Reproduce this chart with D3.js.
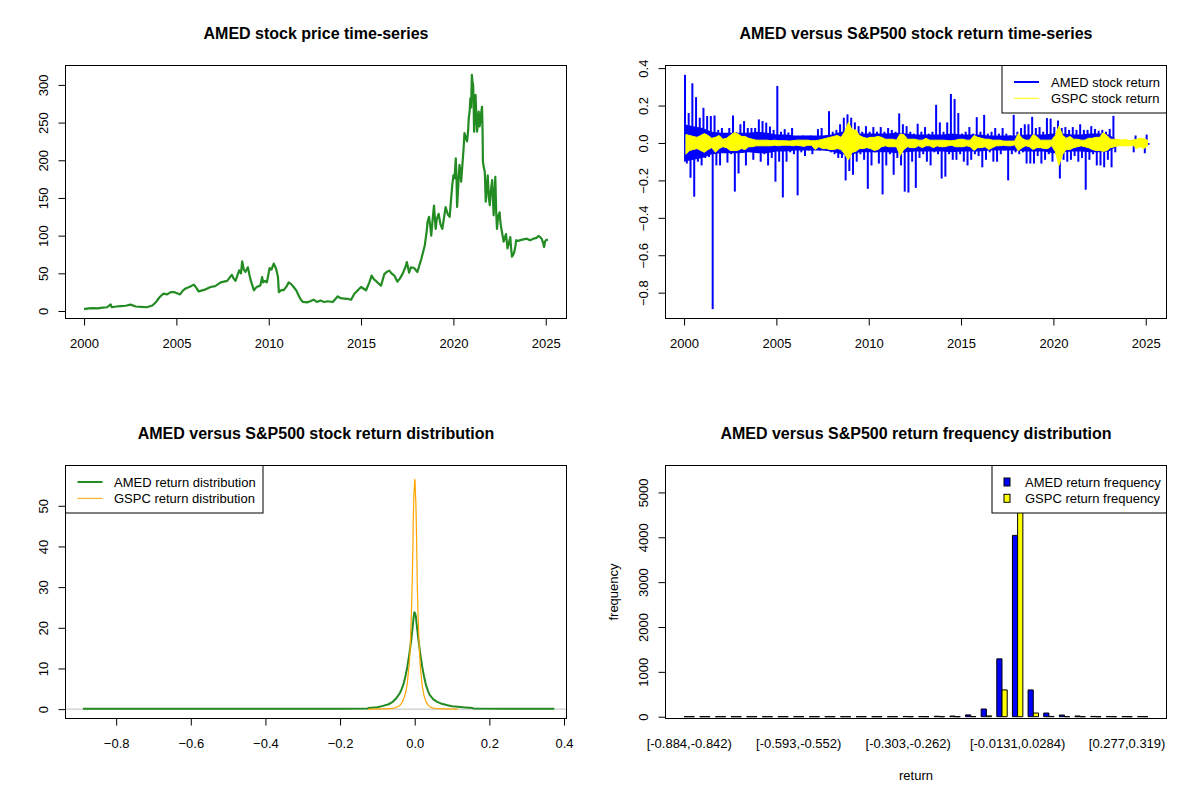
<!DOCTYPE html>
<html>
<head>
<meta charset="utf-8">
<script src="https://cdn.jsdelivr.net/npm/d3@7"></script>
<style>
  body { margin: 0; background: #fff; }
  text { font-family: "Liberation Sans", Arial, Helvetica, sans-serif; }
</style>
</head>
<body>
<svg id="chart" width="1200" height="800"></svg>
<script>
// ---- AMED closing price (decimal year, USD) ----
const priceYears = [2000.00,2000.25,2000.5,2000.75,2001.0,2001.25,2001.44,2001.5,2001.75,2002.0,2002.25,2002.52,2002.8,2003.1,2003.4,2003.7,2003.9,2004.1,2004.3,2004.5,2004.7,2004.9,2005.2,2005.35,2005.5,2005.7,2005.95,2006.1,2006.2,2006.5,2006.85,2007.1,2007.4,2007.75,2008.0,2008.1,2008.2,2008.4,2008.5,2008.56,2008.65,2008.74,2008.87,2009.0,2009.1,2009.2,2009.35,2009.55,2009.64,2009.7,2009.8,2009.9,2010.05,2010.15,2010.27,2010.4,2010.5,2010.55,2010.7,2010.8,2010.95,2011.08,2011.2,2011.35,2011.5,2011.7,2011.85,2012.07,2012.25,2012.43,2012.6,2012.8,2013.0,2013.2,2013.47,2013.74,2013.9,2014.1,2014.3,2014.46,2014.64,2014.8,2015.0,2015.27,2015.45,2015.57,2015.7,2015.8,2016.08,2016.26,2016.4,2016.53,2016.65,2016.8,2016.97,2017.1,2017.24,2017.4,2017.48,2017.6,2017.7,2017.87,2018.05,2018.15,2018.27,2018.45,2018.55,2018.6,2018.68,2018.75,2018.8,2018.9,2018.95,2019.04,2019.1,2019.2,2019.3,2019.4,2019.5,2019.58,2019.7,2019.8,2019.88,2019.94,2020.0,2020.06,2020.13,2020.17,2020.2,2020.27,2020.33,2020.38,2020.42,2020.5,2020.55,2020.6,2020.67,2020.74,2020.8,2020.83,2020.88,2020.92,2020.96,2021.0,2021.03,2021.07,2021.1,2021.12,2021.16,2021.2,2021.24,2021.28,2021.33,2021.37,2021.42,2021.46,2021.5,2021.55,2021.58,2021.6,2021.65,2021.7,2021.75,2021.8,2021.86,2021.92,2021.97,2022.03,2022.1,2022.14,2022.18,2022.22,2022.27,2022.32,2022.36,2022.42,2022.5,2022.56,2022.63,2022.72,2022.78,2022.85,2022.93,2023.0,2023.08,2023.12,2023.17,2023.25,2023.3,2023.35,2023.4,2023.5,2023.62,2023.8,2023.98,2024.15,2024.34,2024.5,2024.6,2024.7,2024.78,2024.86,2024.91,2024.96,2025.02,2025.12];
const priceValues = [2.5,3.5,3.9,3.5,4.5,5,8.7,5,6,6.5,7,8.5,6,5.5,5,7.4,12,18.6,23,22,25,25,22,27,30,32,35,30,26,28,31.9,33,38,40,48,43,40,54,50,66,55,52,58,43,35,27.5,32,34,45,38,40,38,57,55,63,56,45,25,28,27.5,32,38,36,31.9,27,16.5,12,11.5,13,15,12,14,12,13,12,19.5,17,16.5,16,15,23,27,31.9,27.5,38,47,42,40,33.6,49,52,53.6,50,47,39,43,49,58,65,51,58,57,51.8,60,69.6,87,105,118,125,112,100,128,140,109,122,129,115,109,125,138,128,125,150,167,180,176,202.7,175,138,170,194,185,171.5,198,215,236,230,225,240,255.7,265,282.3,270,313.3,305,300,270,238,260,286.7,260,238,250,264.6,245,251,262,271,240,198,190,184.8,145,160,180,150,140.5,160,173.7,150,127,150,178,130,109,125,131,115,105,92,97,102,83,90,98,85,72,75,78.5,85,94,93,94,95,96,94,96,97,99.7,98,96,90,85,92,94,94.8];

// ---- daily returns summarised per 0.2-year window: highest and lowest value ----
const retStart = 2000, retStep = 0.2;
const amedHigh = [0.364,0.16,0.319,0.245,0.135,0.188,0.144,0.144,0.147,0.07,0.08,0.04,0.08,0.147,0.056,0.1,0.117,0.08,0.08,0.08,0.126,0.117,0.109,0.088,0.07,0.305,0.06,0.074,0.056,0.08,0.03,0.03,0.04,0.038,0.04,0.03,0.074,0.08,0.03,0.17,0.06,0.07,0.1,0.135,0.153,0.135,0.11,0.09,0.06,0.09,0.06,0.085,0.06,0.085,0.06,0.08,0.07,0.06,0.158,0.1,0.09,0.06,0.05,0.103,0.06,0.085,0.05,0.06,0.204,0.11,0.06,0.11,0.262,0.235,0.16,0.05,0.06,0.085,0.05,0.138,0.06,0.15,0.05,0.06,0.08,0.05,0.08,0.05,0.04,0.15,0.06,0.08,0.1,0.1,0.14,0.08,0.085,0.06,0.133,0.13,0.085,0.12,0.08,0.085,0.07,0.085,0.07,0.1,0.07,0.07,0.09,0.075,0.065,0.07,0.06,0.075,0.145,0.02,0.015,0.012,0.015,0.012,0.04,0.015,0.02,0.045];
const amedLow = [-0.11,-0.186,-0.287,-0.1,-0.12,-0.08,-0.075,-0.888,-0.12,-0.12,-0.05,-0.105,-0.06,-0.26,-0.163,-0.05,-0.12,-0.04,-0.09,-0.05,-0.1,-0.06,-0.12,-0.08,-0.207,-0.1,-0.291,-0.1,-0.05,-0.06,-0.28,-0.05,-0.07,-0.04,-0.06,-0.03,-0.04,-0.03,-0.04,-0.05,-0.06,-0.08,-0.08,-0.2,-0.15,-0.17,-0.1,-0.06,-0.09,-0.245,-0.12,-0.05,-0.11,-0.275,-0.12,-0.06,-0.17,-0.08,-0.12,-0.26,-0.265,-0.1,-0.24,-0.08,-0.06,-0.1,-0.12,-0.05,-0.06,-0.19,-0.18,-0.06,-0.09,-0.09,-0.06,-0.1,-0.12,-0.09,-0.06,-0.07,-0.13,-0.09,-0.05,-0.1,-0.1,-0.06,-0.04,-0.2,-0.06,-0.05,-0.06,-0.05,-0.11,-0.11,-0.11,-0.07,-0.11,-0.09,-0.06,-0.1,-0.06,-0.19,-0.09,-0.1,-0.09,-0.07,-0.1,-0.08,-0.25,-0.09,-0.06,-0.12,-0.12,-0.13,-0.09,-0.13,-0.05,-0.015,-0.015,-0.012,-0.01,-0.05,-0.015,-0.01,-0.055,-0.01];
const gspcHigh = [0.045,0.04,0.035,0.03,0.04,0.05,0.04,0.025,0.03,0.04,0.02,0.025,0.04,0.055,0.05,0.035,0.035,0.025,0.02,0.015,0.015,0.015,0.015,0.012,0.015,0.012,0.012,0.012,0.01,0.012,0.015,0.015,0.015,0.015,0.012,0.012,0.015,0.02,0.025,0.03,0.035,0.04,0.03,0.06,0.11,0.07,0.07,0.04,0.03,0.025,0.03,0.03,0.035,0.03,0.02,0.02,0.02,0.015,0.048,0.045,0.02,0.02,0.02,0.015,0.015,0.025,0.015,0.015,0.015,0.015,0.015,0.012,0.012,0.015,0.02,0.02,0.015,0.015,0.04,0.03,0.025,0.02,0.02,0.015,0.015,0.015,0.01,0.01,0.01,0.01,0.05,0.025,0.015,0.015,0.045,0.035,0.015,0.015,0.015,0.015,0.04,0.09,0.04,0.025,0.035,0.02,0.02,0.015,0.015,0.025,0.025,0.03,0.03,0.055,0.04,0.02,0.02,0.02,0.015,0.02,0.012,0.015,0.02,0.025,0.022,0.015];
const gspcLow = [-0.06,-0.04,-0.035,-0.03,-0.04,-0.05,-0.035,-0.025,-0.05,-0.03,-0.02,-0.025,-0.04,-0.04,-0.04,-0.03,-0.035,-0.02,-0.02,-0.015,-0.015,-0.015,-0.015,-0.015,-0.012,-0.015,-0.012,-0.012,-0.012,-0.015,-0.012,-0.015,-0.018,-0.012,-0.012,-0.035,-0.02,-0.03,-0.03,-0.035,-0.035,-0.03,-0.035,-0.06,-0.09,-0.05,-0.045,-0.03,-0.03,-0.025,-0.03,-0.04,-0.035,-0.02,-0.015,-0.02,-0.02,-0.02,-0.067,-0.035,-0.02,-0.025,-0.025,-0.015,-0.025,-0.015,-0.015,-0.025,-0.015,-0.02,-0.02,-0.015,-0.012,-0.02,-0.02,-0.02,-0.015,-0.02,-0.04,-0.025,-0.025,-0.02,-0.035,-0.025,-0.015,-0.015,-0.012,-0.015,-0.015,-0.01,-0.042,-0.025,-0.015,-0.02,-0.035,-0.025,-0.025,-0.03,-0.03,-0.015,-0.045,-0.12,-0.06,-0.035,-0.035,-0.025,-0.02,-0.015,-0.02,-0.025,-0.035,-0.04,-0.04,-0.045,-0.04,-0.025,-0.02,-0.015,-0.015,-0.015,-0.015,-0.012,-0.03,-0.02,-0.03,-0.015];
// the dense "everyday" AMED band, per half year
const bandStart = 2000, bandStep = 0.5;
const amedBandHi = [0.1,0.09,0.08,0.06,0.055,0.055,0.055,0.055,0.06,0.055,0.045,0.045,0.04,0.04,0.04,0.04,0.045,0.06,0.06,0.05,0.05,0.05,0.05,0.055,0.05,0.045,0.045,0.045,0.045,0.05,0.045,0.045,0.045,0.04,0.04,0.04,0.04,0.045,0.045,0.045,0.05,0.05,0.045,0.045,0.05,0.05,0.045,0.012,0.01,0.012,0.014];
const amedBandLo = [-0.1,-0.09,-0.08,-0.06,-0.055,-0.055,-0.055,-0.05,-0.055,-0.055,-0.045,-0.045,-0.04,-0.04,-0.04,-0.04,-0.045,-0.06,-0.065,-0.05,-0.05,-0.05,-0.05,-0.055,-0.05,-0.045,-0.045,-0.045,-0.045,-0.05,-0.045,-0.045,-0.045,-0.04,-0.04,-0.04,-0.04,-0.045,-0.045,-0.045,-0.055,-0.05,-0.045,-0.045,-0.05,-0.05,-0.045,-0.012,-0.01,-0.012,-0.014];

// ---- kernel density of returns ----
const densityRange = [-0.886, 0.357];
const amedDensX = [-0.889,-0.5,-0.2,-0.126,-0.124,-0.1,-0.085,-0.07,-0.06,-0.05,-0.04,-0.035,-0.03,-0.025,-0.02,-0.015,-0.01,-0.006,-0.003,-0.001,0.001,0.003,0.006,0.01,0.015,0.02,0.025,0.03,0.035,0.04,0.05,0.06,0.07,0.085,0.1,0.13,0.155,0.157,0.25,0.374];
const amedDensY = [0.1,0.1,0.1,0.15,0.3,0.45,0.8,1.2,1.7,2.6,3.9,4.9,6.2,8.0,10.3,13.2,16.5,19.8,22.5,23.8,23.6,22.8,20.3,17.0,13.5,10.5,8.0,6.0,4.6,3.5,2.4,1.8,1.4,1.0,0.7,0.45,0.3,0.15,0.1,0.1];
const gspcDensX = [-0.125,-0.1,-0.08,-0.06,-0.05,-0.04,-0.035,-0.03,-0.025,-0.02,-0.015,-0.012,-0.009,-0.007,-0.005,-0.004,-0.003,-0.002,-0.001,0,0.001,0.002,0.003,0.004,0.005,0.007,0.009,0.012,0.015,0.02,0.025,0.03,0.035,0.04,0.05,0.06,0.08,0.115];
const gspcDensY = [0.02,0.05,0.08,0.2,0.4,0.9,1.5,2.4,3.8,6.2,10.8,15,23,30,39,46,50,53,55,56.5,56,53,51,47,42,30,23,15.5,10.5,5.8,3.3,1.9,1.1,0.6,0.25,0.1,0.05,0.02];

// ---- return frequency per bin ----
const binLabels = ["[-0.884,-0.842)","[-0.842,-0.801)","[-0.801,-0.759)","[-0.759,-0.718)","[-0.718,-0.676)","[-0.676,-0.635)","[-0.635,-0.593)","[-0.593,-0.552)","[-0.552,-0.511)","[-0.511,-0.469)","[-0.469,-0.428)","[-0.428,-0.386)","[-0.386,-0.345)","[-0.345,-0.303)","[-0.303,-0.262)","[-0.262,-0.22)","[-0.22,-0.179)","[-0.179,-0.137)","[-0.137,-0.0959)","[-0.0959,-0.0544)","[-0.0544,-0.0131)","[-0.0131,0.0284)","[0.0284,0.0699)","[0.0699,0.111)","[0.111,0.153)","[0.153,0.194)","[0.194,0.236)","[0.236,0.277)","[0.277,0.319)","[0.319,0.36]"];
const amedFreq = [1,0,0,0,0,0,0,0,0,0,0,0,0,1,5,3,10,15,40,172,1290,4042,597,82,37,16,6,3,2,2];
const gspcFreq = [0,0,0,0,0,0,0,0,0,0,0,0,0,0,0,0,0,0,3,18,597,5540,82,6,1,0,0,0,0,0];

const yearTicks = [2000, 2005, 2010, 2015, 2020, 2025];

// ---------------------------------------------------------------
const svg = d3.select("#chart");
const font = '"Liberation Sans", Arial, Helvetica, sans-serif';
const box = { x0: 65.5, x1: 566.5, y0: 65.5, y1: 318.5 };
const rExt = ([a, b]) => [a - 0.04 * (b - a), b + 0.04 * (b - a)];

svg.append("rect").attr("width", 1200).attr("height", 800).attr("fill", "#fff");

function panel(col, row, title) {
    const g = svg.append("g").attr("transform", `translate(${col * 600},${row * 400})`);
    g.append("text")
        .attr("x", (box.x0 + box.x1) / 2).attr("y", 39)
        .attr("text-anchor", "middle")
        .attr("font-weight", "bold").attr("font-size", 16)
        .text(title);
    return g;
}

function frame(g) {
    g.append("rect")
        .attr("x", box.x0).attr("y", box.y0)
        .attr("width", box.x1 - box.x0).attr("height", box.y1 - box.y0)
        .attr("fill", "none").attr("stroke", "#000");
}

function xAxis(g, x, ticks, fmt) {
    const a = g.append("g").attr("transform", `translate(0,${box.y1})`)
        .call(d3.axisBottom(x).tickValues(ticks).tickSize(7).tickPadding(13).tickFormat(fmt));
    a.select(".domain").remove();
    a.attr("font-size", 13).attr("font-family", font);
}

function yAxis(g, y, ticks, fmt) {
    const a = g.append("g").attr("transform", `translate(${box.x0},0)`)
        .call(d3.axisLeft(y).tickValues(ticks).tickSize(7).tickFormat(fmt));
    a.select(".domain").remove();
    a.attr("font-size", 13).attr("font-family", font);
    a.selectAll(".tick text")
        .attr("x", 0).attr("y", -18).attr("dy", null)
        .attr("text-anchor", "middle")
        .attr("transform", "rotate(-90)");
}

function legend(g, x0, x1, items) {
    const lg = g.append("g");
    lg.append("rect")
        .attr("x", x0).attr("y", box.y0)
        .attr("width", x1 - x0).attr("height", 47.5)
        .attr("fill", "#fff").attr("stroke", "#000");
    items.forEach((it, i) => {
        const cy = box.y0 + 16.5 + i * 16.3;
        if (it.type === "line") {
            lg.append("line")
                .attr("x1", x0 + 12).attr("x2", x0 + 37)
                .attr("y1", cy).attr("y2", cy)
                .attr("stroke", it.color).attr("stroke-width", it.width);
        } else {
            lg.append("rect")
                .attr("x", x0 + 12).attr("y", cy - 4)
                .attr("width", 6).attr("height", 8)
                .attr("fill", it.color).attr("stroke", "#000");
        }
        lg.append("text")
            .attr("x", x0 + it.textOffset).attr("y", cy)
            .attr("dominant-baseline", "central")
            .attr("font-size", 13)
            .text(it.label);
    });
}

// ---- 1: price time series ----
{
    const g = panel(0, 0, "AMED stock price time-series");
    const x = d3.scaleLinear().domain(rExt(d3.extent(priceYears))).range([box.x0, box.x1]);
    const y = d3.scaleLinear().domain(rExt(d3.extent(priceValues))).range([box.y1, box.y0]);

    const line = d3.line().x(d => x(d[0])).y(d => y(d[1]));
    g.append("path")
        .datum(priceYears.map((t, i) => [t, priceValues[i]]))
        .attr("d", line)
        .attr("fill", "none").attr("stroke", "#228B22")
        .attr("stroke-width", 2.2).attr("stroke-linejoin", "round");

    frame(g);
    xAxis(g, x, yearTicks, d3.format("d"));
    yAxis(g, y, d3.range(0, 301, 50), d3.format("d"));
}

// ---- 2: return time series ----
{
    const g = panel(1, 0, "AMED versus S&P500 stock return time-series");
    const x = d3.scaleLinear().domain(rExt(d3.extent(priceYears))).range([box.x0, box.x1]);
    const y = d3.scaleLinear().domain(rExt([d3.min(amedLow), d3.max(amedHigh)])).range([box.y1, box.y0]);

    // solid everyday band of AMED returns
    g.append("path")
        .datum(amedBandHi.map((h, i) => ({ t: bandStart + i * bandStep, hi: h, lo: amedBandLo[i] })))
        .attr("d", d3.area().x(d => x(d.t)).y0(d => y(d.lo)).y1(d => y(d.hi)))
        .attr("fill", "#0000FF");

    // AMED spikes: window high and window low
    const spikes = amedHigh.flatMap((h, i) => [
        { t: retStart + i * retStep + 0.05, v: h },
        { t: retStart + i * retStep + 0.15, v: amedLow[i] }
    ]);
    g.append("g").selectAll("line").data(spikes).join("line")
        .attr("x1", d => x(d.t)).attr("x2", d => x(d.t))
        .attr("y1", y(0)).attr("y2", d => y(d.v))
        .attr("stroke", "#0000FF").attr("stroke-width", 2);

    // GSPC band
    g.append("path")
        .datum(gspcHigh.map((h, i) => ({ t: retStart + i * retStep + 0.1, hi: h, lo: gspcLow[i] })))
        .attr("d", d3.area().x(d => x(d.t)).y0(d => y(d.lo)).y1(d => y(d.hi)))
        .attr("fill", "#FFFF00").attr("stroke", "#FFFF00").attr("stroke-width", 1);

    frame(g);
    xAxis(g, x, yearTicks, d3.format("d"));
    yAxis(g, y, [-0.8, -0.6, -0.4, -0.2, 0, 0.2, 0.4], d3.format(".1f"));

    legend(g, 402, box.x1, [
        { type: "line", color: "#0000FF", width: 2, label: "AMED stock return", textOffset: 49 },
        { type: "line", color: "#FFFF00", width: 1, label: "GSPC stock return", textOffset: 49 }
    ]);
}

// ---- 3: return density ----
{
    const g = panel(0, 1, "AMED versus S&P500 stock return distribution");
    const x = d3.scaleLinear().domain(rExt(densityRange)).range([box.x0, box.x1]);
    const y = d3.scaleLinear().domain(rExt([0, 57.6])).range([box.y1, box.y0]);

    g.append("line")
        .attr("x1", box.x0).attr("x2", box.x1)
        .attr("y1", y(0)).attr("y2", y(0))
        .attr("stroke", "#BEBEBE");

    const line = d3.line().x(d => x(d[0])).y(d => y(d[1]));
    g.append("path").datum(amedDensX.map((v, i) => [v, amedDensY[i]])).attr("d", line)
        .attr("fill", "none").attr("stroke", "#228B22").attr("stroke-width", 2)
        .attr("stroke-linejoin", "round");
    g.append("path").datum(gspcDensX.map((v, i) => [v, gspcDensY[i]])).attr("d", line)
        .attr("fill", "none").attr("stroke", "#FFA500").attr("stroke-width", 1.2)
        .attr("stroke-linejoin", "round");

    frame(g);
    xAxis(g, x, [-0.8, -0.6, -0.4, -0.2, 0, 0.2, 0.4], d3.format(".1f"));
    yAxis(g, y, d3.range(0, 51, 10), d3.format("d"));

    legend(g, box.x0, 263, [
        { type: "line", color: "#228B22", width: 2, label: "AMED return distribution", textOffset: 48.5 },
        { type: "line", color: "#FFA500", width: 1, label: "GSPC return distribution", textOffset: 48.5 }
    ]);
}

// ---- 4: frequency barplot (beside, space = c(0, 1)) ----
{
    const g = panel(1, 1, "AMED versus S&P500 return frequency distribution");
    const nGroups = binLabels.length;
    const x = d3.scaleLinear().domain(rExt([1, 3 * nGroups])).range([box.x0, box.x1]);
    const y = d3.scaleLinear().domain([-40, 5600]).range([box.y1, box.y0]);

    const bars = [];
    binLabels.forEach((lab, i) => {
        bars.push({ l: 1 + 3 * i, v: amedFreq[i], c: "#0000FF" });
        bars.push({ l: 2 + 3 * i, v: gspcFreq[i], c: "#FFFF00" });
    });
    g.append("g").selectAll("path").data(bars).join("path")
        .attr("d", d => `M${x(d.l)},${y(0)}H${x(d.l + 1)}V${y(d.v)}H${x(d.l)}Z`)
        .attr("fill", d => d.c).attr("stroke", "#000").attr("stroke-width", 1);

    frame(g);
    yAxis(g, y, d3.range(0, 5001, 1000), d3.format("d"));

    // R drops labels that would collide: every 7th group is shown
    g.append("g").selectAll("text")
        .data(binLabels.map((lab, i) => ({ lab, i })).filter(d => d.i % 7 === 0))
        .join("text")
        .attr("x", d => x(2 + 3 * d.i)).attr("y", box.y1 + 29.5)
        .attr("text-anchor", "middle").attr("font-size", 13)
        .text(d => d.lab);

    g.append("text")
        .attr("x", (box.x0 + box.x1) / 2).attr("y", box.y1 + 61.5)
        .attr("text-anchor", "middle").attr("font-size", 13)
        .text("return");
    g.append("text")
        .attr("transform", `translate(${box.x0 - 48},${(box.y0 + box.y1) / 2}) rotate(-90)`)
        .attr("text-anchor", "middle").attr("font-size", 13)
        .text("frequency");

    legend(g, 392, box.x1, [
        { type: "box", color: "#0000FF", label: "AMED return frequency", textOffset: 33 },
        { type: "box", color: "#FFFF00", label: "GSPC return frequency", textOffset: 33 }
    ]);
}
</script>
</body>
</html>
